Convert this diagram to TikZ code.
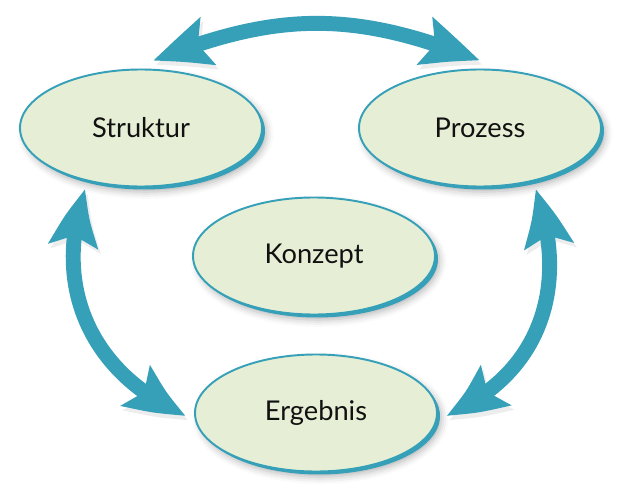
\documentclass[tikz,border=0pt]{standalone}
\usepackage{fontspec}
\setsansfont{Lato}
\usepackage{xcolor}
\usepackage{tikz}
\usetikzlibrary{arrows.meta,bending,shapes.geometric,shadows,shadows.blur}
\definecolor{TEAL}{HTML}{36A0B9}
\definecolor{PALE}{HTML}{E6EFD6}
\definecolor{INK}{HTML}{111111}

\begin{document}
\begin{tikzpicture}[
  font=\sffamily,
  bubble/.style={ellipse, minimum width=4.84cm, minimum height=2.34cm,
    inner sep=0pt, outer sep=5pt, fill=PALE, draw=TEAL, line width=1.1pt,
    font=\sffamily\fontsize{15.5pt}{18pt}\selectfont, text=INK,
    blur shadow={shadow xshift=2.5pt, shadow yshift=-3pt, shadow blur radius=4pt, shadow opacity=30},
    general shadow={fill=TEAL, shadow xshift=1.7pt, shadow yshift=-1.7pt}},
  loop/.style={draw=TEAL, line width=8.5pt,
    {Stealth[length=34pt, width=27pt, inset=6pt, bend]}-{Stealth[length=34pt, width=27pt, inset=6pt, bend]},
    preaction={draw=black, opacity=0.07, transform canvas={xshift=1.5pt, yshift=-2.5pt}}},
]
\useasboundingbox (0,0) rectangle (12.36,9.72);

\node[bubble] (struk) at (2.82, 7.16) {Struktur};
\node[bubble] (proz)  at (9.60, 7.16) {Prozess};
\node[bubble] (konz)  at (6.28, 4.60) {Konzept};
\node[bubble] (erg)   at (6.32, 1.46) {Ergebnis};

% the cycle round the concept
\draw[loop] (struk.80) .. controls +(2.5,1.0) and +(-2.5,1.0) .. (proz.north);
\draw[loop] (struk.228) .. controls +(-0.72,-1.92) and +(-1.9,0.8) .. (erg.181);
\draw[loop] (proz.312) .. controls +(0.72,-1.92) and +(1.9,0.8) .. (erg.359);

\end{tikzpicture}
\end{document}
